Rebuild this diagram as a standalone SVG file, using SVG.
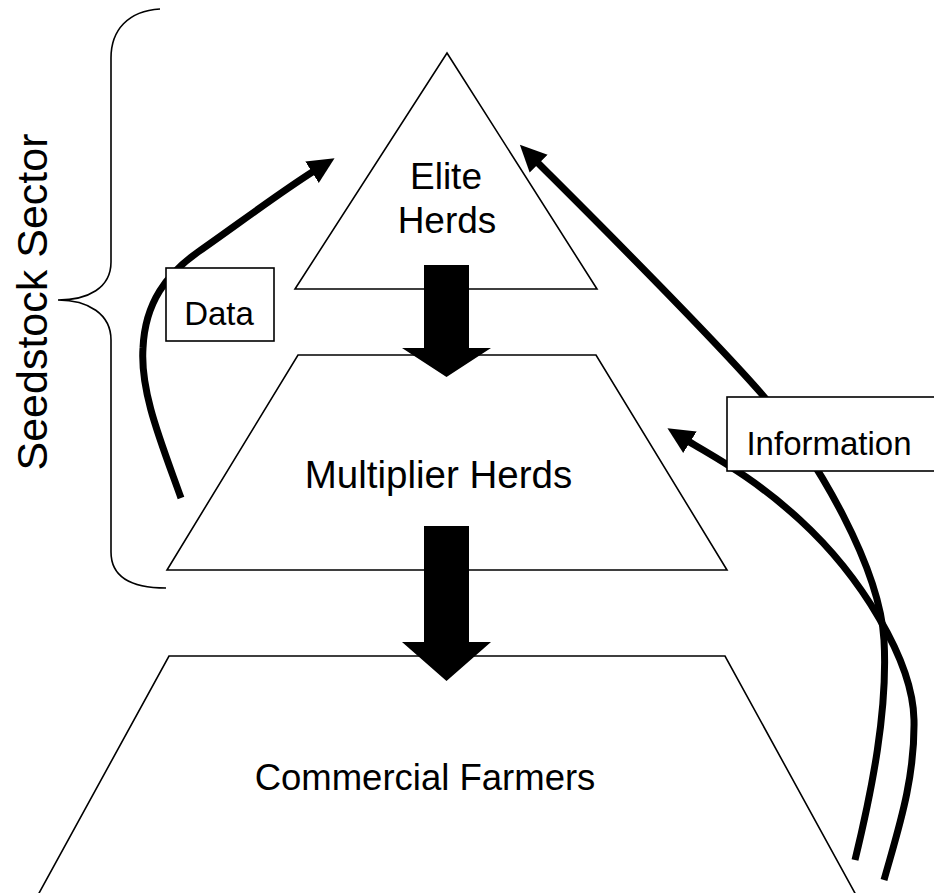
<svg xmlns="http://www.w3.org/2000/svg" width="934" height="893" viewBox="0 0 934 893">
  <style>
    .tier { fill: #ffffff; stroke: #000000; stroke-width: 1.6; stroke-linejoin: miter; }
    .label { font-family: "Liberation Sans", Arial, sans-serif; fill: #000000; text-anchor: middle; }
    .big { font-size: 37px; }
    .small { font-size: 33px; }
    .side { font-size: 43px; }
    .box { fill: #ffffff; stroke: #000000; stroke-width: 1.6; }
    .flow { fill: none; stroke: #000000; stroke-width: 7; stroke-linecap: butt; marker-end: url(#head); }
    .block { fill: #000000; stroke: none; }
    .brace { fill: none; stroke: #000000; stroke-width: 1.6; }
  </style>
  <defs>
    <marker id="head" markerUnits="userSpaceOnUse" markerWidth="30" markerHeight="30" viewBox="0 -12 26 24" refX="2" refY="0" orient="auto">
      <path d="M0,-11 L23,0 L0,11 Z" fill="#000000"/>
    </marker>
  </defs>

  <rect width="934" height="893" fill="#ffffff"/>

  <!-- Bracket grouping the seedstock tiers -->
  <g id="seedstock-sector">
    <path class="brace" d="M160,9 C128,11 111,30 111,58 L111,262 C111,288 88,300 58,300 C88,300 111,314 111,340 L111,552 C111,576 130,588 166,588"/>
    <text class="label side" transform="translate(47,302) rotate(-90)">Seedstock Sector</text>
  </g>

  <!-- Pyramid tiers -->
  <g id="elite-herds">
    <polygon class="tier" points="447,53 597,289 295,289"/>
    <text class="label big" x="446" y="189">Elite</text>
    <text class="label big" x="447" y="233">Herds</text>
  </g>
  <g id="multiplier-herds">
    <polygon class="tier" points="298,355 596,355 727,570 167,570"/>
    <text class="label" style="font-size:38.5px" x="438.5" y="488">Multiplier Herds</text>
  </g>
  <g id="commercial-farmers">
    <polygon class="tier" points="169,656 725,656 856,895 38,895"/>
    <text class="label" style="font-size:36.5px" x="425" y="790">Commercial Farmers</text>
  </g>

  <!-- Connectors: gene flow down the pyramid, data and information back up -->
  <g id="connectors">
    <polygon class="block" points="424,265 469,265 469,348 491,348 446.5,377 402,348 424,348"/>
    <polygon class="block" points="424,526 469,526 469,642 491,642 446.5,681 402,642 424,642"/>
    <path class="flow" d="M181,498 C161,442 140,392 143,348 C145,302 167,274 198,252 C238,224 282,191 314,171"/>
    <path class="flow" d="M855,860 C872,790 888,710 884,640 C880,570 820,460 760,392 C700,324 590,215 537,162"/>
    <path class="flow" d="M884,880 C898,830 915,780 914,720 C913,660 860,575 800,520 C752,476 712,456 688,441"/>
  </g>

  <!-- Flow labels -->
  <g id="data-label">
    <rect class="box" x="166" y="268" width="108" height="73"/>
    <text class="label small" x="219" y="325">Data</text>
  </g>
  <g id="information-label">
    <rect class="box" x="727" y="397" width="220" height="74"/>
    <text class="label small" x="829" y="455">Information</text>
  </g>
</svg>
